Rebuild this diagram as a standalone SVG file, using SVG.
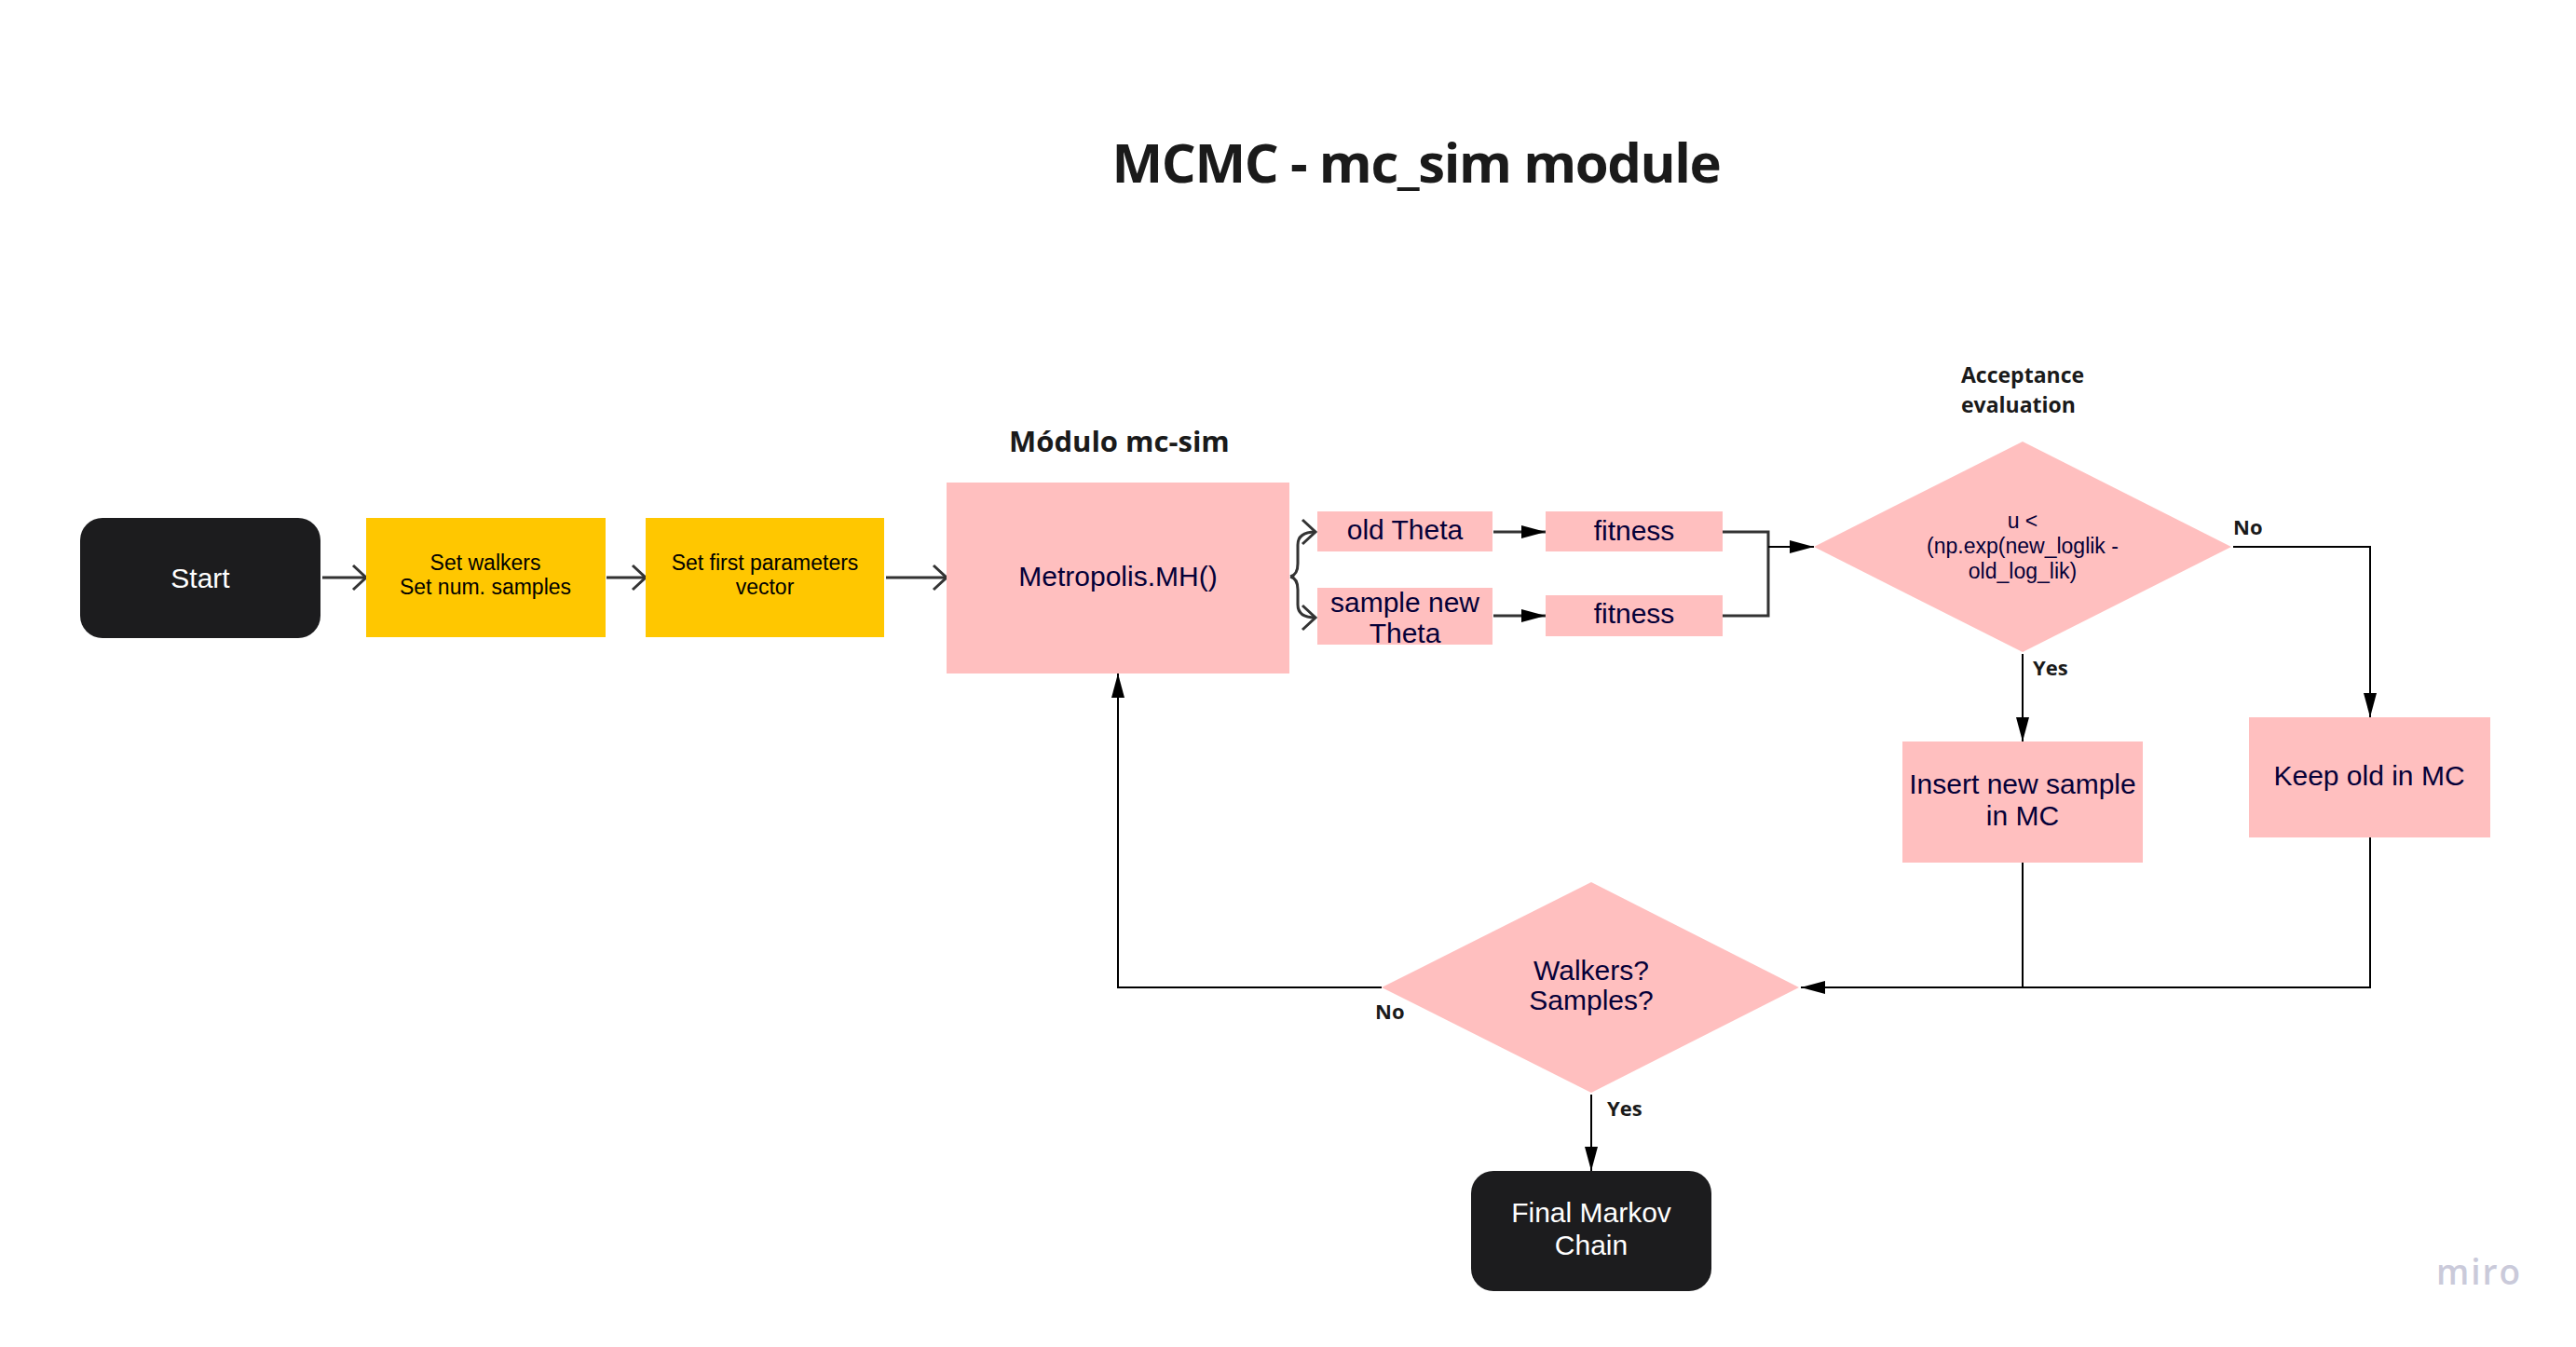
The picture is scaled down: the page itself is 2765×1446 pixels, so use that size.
<svg xmlns="http://www.w3.org/2000/svg" width="2765" height="1446" viewBox="0 0 2765 1446">
<defs>
<style>
.pink{fill:#FFBFBF}
.yellow{fill:#FFC700}
.dark{fill:#1C1C1E}
.t{font-family:"Liberation Sans",Arial,sans-serif;font-size:30px;fill:#050038;text-anchor:middle}
.tw{font-family:"Liberation Sans",Arial,sans-serif;font-size:30px;fill:#FFFFFF;text-anchor:middle}
.ty{font-family:"Liberation Sans",Arial,sans-serif;font-size:23px;fill:#000000;text-anchor:middle}
.td{font-family:"Liberation Sans",Arial,sans-serif;font-size:23px;fill:#050038;text-anchor:middle}
.lbl{font-family:"Open Sans","Liberation Sans",sans-serif;font-weight:700;font-size:22px;fill:#1a1a1a}
.head{font-family:"Open Sans","Liberation Sans",sans-serif;font-weight:700;fill:#1a1a1a}
.c{fill:none;stroke:#000;stroke-width:2}
.c3{fill:none;stroke:#333;stroke-width:3}
</style>
<marker id="tri" viewBox="0 0 26 14" refX="26" refY="7" markerWidth="26" markerHeight="14" markerUnits="userSpaceOnUse" orient="auto">
<path d="M0,0 L26,7 L0,14 Z" fill="#000"/>
</marker>
<marker id="chev" viewBox="-3 -3 20 32" refX="14" refY="13" markerWidth="20" markerHeight="32" markerUnits="userSpaceOnUse" orient="auto">
<path d="M0,0 L14,13 L0,26" fill="none" stroke="#333" stroke-width="3"/>
</marker>
</defs>
<rect width="2765" height="1446" fill="#FFFFFF"/>

<text class="head" x="1520" y="196" font-size="58" letter-spacing="-1.4" text-anchor="middle">MCMC - mc_sim module</text>
<text class="head" x="1083" y="485" font-size="31">Módulo mc-sim</text>
<text class="head" x="2105" y="411" font-size="23">Acceptance</text>
<text class="head" x="2105" y="443" font-size="23">evaluation</text>

<g id="connectors">
<line class="c3" x1="346" y1="620" x2="393" y2="620" marker-end="url(#chev)"/>
<line class="c3" x1="651" y1="620" x2="693" y2="620" marker-end="url(#chev)"/>
<line class="c3" x1="951" y1="620" x2="1016" y2="620" marker-end="url(#chev)"/>
<path class="c3" d="M1385,619 Q1393,617 1393,605 L1393,585 Q1393,571 1412,571" marker-end="url(#chev)"/>
<path class="c3" d="M1385,619 Q1393,621 1393,633 L1393,649 Q1393,663 1412,663" marker-end="url(#chev)"/>
<line class="c3" x1="1603" y1="571" x2="1659" y2="571" marker-end="url(#tri)"/>
<line class="c3" x1="1603" y1="661" x2="1659" y2="661" marker-end="url(#tri)"/>
<path class="c3" d="M1849,571 L1898,571 L1898,661 L1849,661"/>
<line class="c" x1="1898" y1="587" x2="1947" y2="587" marker-end="url(#tri)"/>
<line class="c" x1="2171" y1="702" x2="2171" y2="796" marker-end="url(#tri)"/>
<path class="c" d="M2397,587 L2544,587 L2544,770" marker-end="url(#tri)"/>
<path class="c" d="M2171,926 L2171,1060"/>
<path class="c" d="M2544,899 L2544,1060 L1933,1060" marker-end="url(#tri)"/>
<path class="c" d="M1483,1060 L1200,1060 L1200,723" marker-end="url(#tri)"/>
<line class="c" x1="1708" y1="1175" x2="1708" y2="1257" marker-end="url(#tri)"/>
<text class="lbl" x="2397" y="574">No</text>
<text class="lbl" x="2182" y="725">Yes</text>
<text class="lbl" x="1476" y="1094">No</text>
<text class="lbl" x="1725" y="1198">Yes</text>
</g>

<g id="start">
<rect class="dark" x="86" y="556" width="258" height="129" rx="24"/>
<text class="tw" x="215" y="631">Start</text>
</g>
<g id="set-walkers">
<rect class="yellow" x="393" y="556" width="257" height="128"/>
<text class="ty" x="521" y="612">Set walkers</text>
<text class="ty" x="521" y="638">Set num. samples</text>
</g>
<g id="set-params">
<rect class="yellow" x="693" y="556" width="256" height="128"/>
<text class="ty" x="821" y="612">Set first parameters</text>
<text class="ty" x="821" y="638">vector</text>
</g>
<g id="metropolis">
<rect class="pink" x="1016" y="518" width="368" height="205"/>
<text class="t" x="1200" y="629">Metropolis.MH()</text>
</g>
<g id="old-theta">
<rect class="pink" x="1414" y="549" width="188" height="43"/>
<text class="t" x="1508" y="579">old Theta</text>
</g>
<g id="new-theta">
<rect class="pink" x="1414" y="631" width="188" height="61"/>
<text class="t" x="1508" y="657">sample new</text>
<text class="t" x="1508" y="690">Theta</text>
</g>
<g id="fitness-old">
<rect class="pink" x="1659" y="549" width="190" height="43"/>
<text class="t" x="1754" y="580">fitness</text>
</g>
<g id="fitness-new">
<rect class="pink" x="1659" y="639" width="190" height="44"/>
<text class="t" x="1754" y="669">fitness</text>
</g>
<g id="acceptance">
<polygon class="pink" points="1947,587 2171,474 2395,587 2171,700"/>
<text class="td" x="2171" y="567">u &lt;</text>
<text class="td" x="2171" y="594">(np.exp(new_loglik -</text>
<text class="td" x="2171" y="621">old_log_lik)</text>
</g>
<g id="insert">
<rect class="pink" x="2042" y="796" width="258" height="130"/>
<text class="t" x="2171" y="852">Insert new sample</text>
<text class="t" x="2171" y="886">in MC</text>
</g>
<g id="keep">
<rect class="pink" x="2414" y="770" width="259" height="129"/>
<text class="t" x="2543" y="843">Keep old in MC</text>
</g>
<g id="walkers-check">
<polygon class="pink" points="1483,1060 1708,947 1931,1060 1708,1173"/>
<text class="t" x="1708" y="1052">Walkers?</text>
<text class="t" x="1708" y="1084">Samples?</text>
</g>
<g id="final">
<rect class="dark" x="1579" y="1257" width="258" height="129" rx="24"/>
<text class="tw" x="1708" y="1312">Final Markov</text>
<text class="tw" x="1708" y="1347">Chain</text>
</g>
<text x="2615" y="1379" font-family="'Open Sans','Liberation Sans',sans-serif" font-weight="600" font-size="37" fill="#CACADA" letter-spacing="2">miro</text>
</svg>
